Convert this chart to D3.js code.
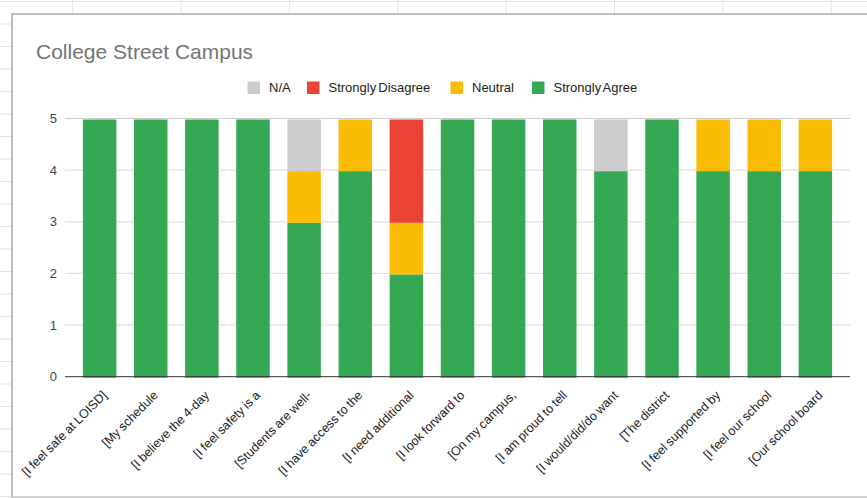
<!DOCTYPE html>
<html><head><meta charset="utf-8">
<script src="https://cdn.jsdelivr.net/npm/d3@7"></script>
<style>
html,body{margin:0;padding:0;background:#fff;}
svg{display:block;font-family:Arial,"Liberation Sans",sans-serif;}
</style></head>
<body>
<svg id="c" width="867" height="498"></svg>
<script>
const categories = ["[I feel safe at LOISD]","[My schedule","[I believe the 4-day","[I feel safety is a","[Students are well-","[I have access to the","[I need additional","[I look forward to","[On my campus,","[I am proud to tell","[I would/did/do want","[The district","[I feel supported by","[I feel our school","[Our school board"];
const stronglyAgree    = [5,5,5,5,3,4,2,5,5,5,4,5,4,4,4];
const neutral          = [0,0,0,0,1,1,1,0,0,0,0,0,1,1,1];
const stronglyDisagree = [0,0,0,0,0,0,2,0,0,0,0,0,0,0,0];
const notApplicable    = [0,0,0,0,1,0,0,0,0,0,1,0,0,0,0];
const yTicks = [0,1,2,3,4,5];
const legendLabels = ["N/A","Strongly Disagree","Neutral","Strongly Agree"];
const title = "College Street Campus";

const svg = d3.select("#c");
const gridColor = "#e2e2e2";

// spreadsheet grid background
const rowLines = d3.range(0, 23).map(i => 1.5 + 22.5 * i);
svg.append("g").selectAll("line").data(rowLines).join("line")
  .attr("x1", 0).attr("x2", 12).attr("y1", d => d).attr("y2", d => d)
  .attr("stroke", gridColor).attr("stroke-width", 1);
svg.append("line").attr("x1", 0).attr("x2", 867).attr("y1", 1.5).attr("y2", 1.5).attr("stroke", gridColor);
const colLines = d3.range(0, 8).map(i => 72.7 + 108.35 * i);
svg.append("g").selectAll("line").data(colLines).join("line")
  .attr("x1", d => d).attr("x2", d => d).attr("y1", 0).attr("y2", 14)
  .attr("stroke", gridColor).attr("stroke-width", 1);

// chart frame
svg.append("rect").attr("x", 12).attr("y", 14).attr("width", 900).attr("height", 483)
  .attr("fill", "#fff").attr("stroke", "#a8a8a8").attr("stroke-width", 1.5);
svg.append("line").attr("x1", 12).attr("x2", 867).attr("y1", 496.8).attr("y2", 496.8).attr("stroke", "#e0e0e0");

// title
svg.append("text").attr("x", 36).attr("y", 59).attr("font-size", 21).attr("fill", "#757575").text(title);

// scales
const x = d3.scaleBand().domain(categories).range([65, 850]).paddingInner(0.345).paddingOuter(0.35);
const y = d3.scaleLinear().domain([0, 5]).range([376.7, 118.5]);

// gridlines
svg.append("g").selectAll("line").data(yTicks.filter(d => d > 0)).join("line")
  .attr("x1", 65).attr("x2", 850).attr("y1", d => y(d)).attr("y2", d => y(d))
  .attr("stroke", d => d === 5 ? "#cccccc" : "#e0e0e0").attr("stroke-width", 1.2);

// y axis labels
svg.append("g").selectAll("text").data(yTicks).join("text")
  .attr("x", 57).attr("y", d => y(d) + 4.5).attr("text-anchor", "end")
  .attr("font-size", 13).attr("fill", "#444").text(d => d);

// stacked bars
const rows = categories.map((c, i) => ({cat: c, sa: stronglyAgree[i], ne: neutral[i], sd: stronglyDisagree[i], na: notApplicable[i]}));
const keys = ["sa", "ne", "sd", "na"];
const colors = {sa: "#34a853", ne: "#fbbc04", sd: "#ea4335", na: "#cccccc"};
const stack = d3.stack().keys(keys)(rows);
svg.append("g").selectAll("g").data(stack).join("g").attr("fill", s => colors[s.key])
  .selectAll("rect").data(s => s).join("rect")
  .attr("x", d => x(d.data.cat)).attr("width", x.bandwidth())
  .attr("y", d => y(d[1]) + 1).attr("height", d => Math.max(0, y(d[0]) - y(d[1])));

// baseline
svg.append("line").attr("x1", 65).attr("x2", 850).attr("y1", y(0)).attr("y2", y(0)).attr("stroke", "#333").attr("stroke-width", 1);

// x labels
svg.append("g").selectAll("text").data(categories).join("text")
  .attr("transform", d => `translate(${x(d) + x.bandwidth() / 2 + 8},${396}) rotate(-45)`)
  .attr("text-anchor", "end").attr("font-size", 12.5).attr("fill", "#222").attr("word-spacing", -0.5).text(d => d);

// legend
const legColors = ["#cccccc", "#ea4335", "#fbbc04", "#34a853"];
const legX = [247.5, 307, 450.5, 532];
const lg = svg.append("g");
legendLabels.forEach((t, i) => {
  lg.append("rect").attr("x", legX[i]).attr("y", 81.5).attr("width", 12.5).attr("height", 12.5).attr("fill", legColors[i]);
  lg.append("text").attr("x", legX[i] + 21.5).attr("y", 92).attr("font-size", 13).attr("fill", "#222").attr("word-spacing", -1.5).text(t);
});
</script>
</body></html>
